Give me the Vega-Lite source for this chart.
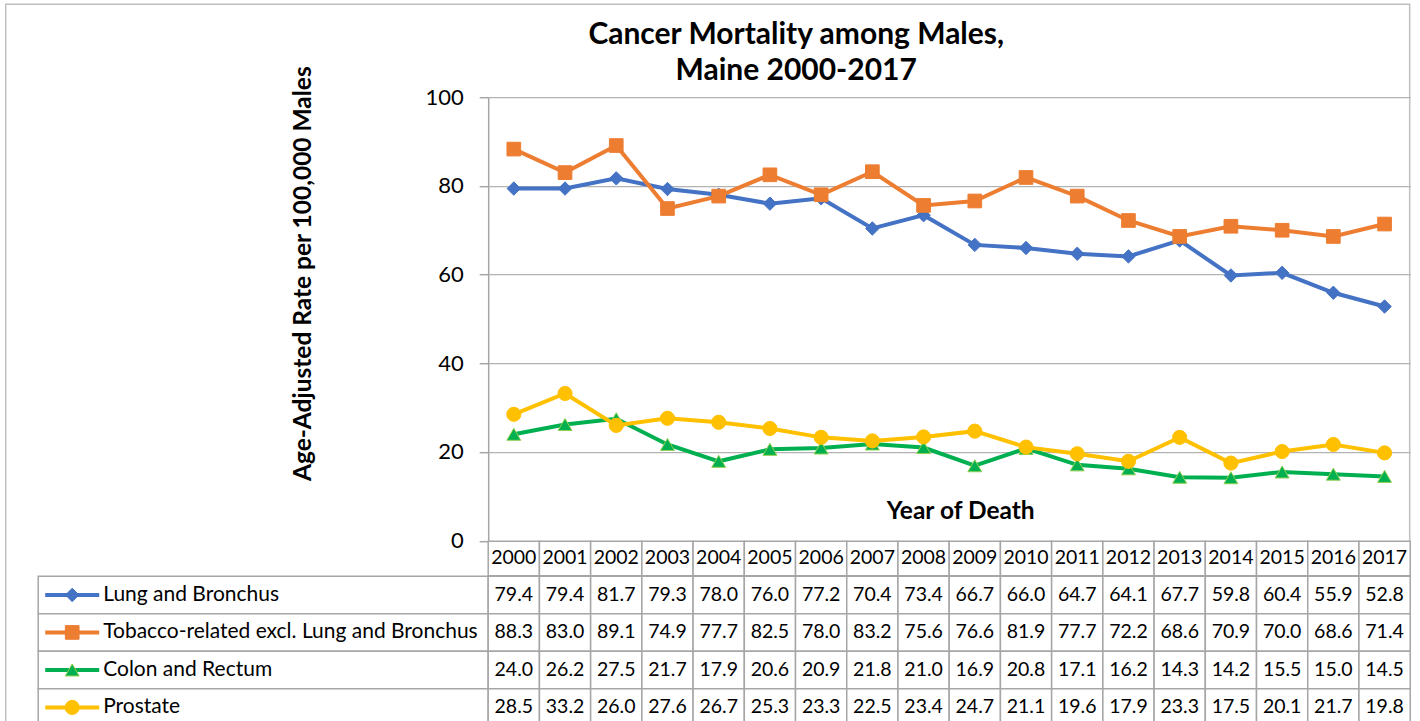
{
  "$schema": "https://vega.github.io/schema/vega-lite/v6.json",
  "background": "white",
  "padding": {"left": 4.2, "top": 3.2, "right": 0, "bottom": 0},
  "config": {"view": {"stroke": null}, "font": "Lato", "text": {"font": "Lato", "color": "#000000"}},
  "datasets": {
    "rates": [
      {"year": 2000, "series": "Lung and Bronchus", "value": 79.4},
      {"year": 2000, "series": "Tobacco-related excl. Lung and Bronchus", "value": 88.3},
      {"year": 2000, "series": "Colon and Rectum", "value": 24.0},
      {"year": 2000, "series": "Prostate", "value": 28.5},
      {"year": 2001, "series": "Lung and Bronchus", "value": 79.4},
      {"year": 2001, "series": "Tobacco-related excl. Lung and Bronchus", "value": 83.0},
      {"year": 2001, "series": "Colon and Rectum", "value": 26.2},
      {"year": 2001, "series": "Prostate", "value": 33.2},
      {"year": 2002, "series": "Lung and Bronchus", "value": 81.7},
      {"year": 2002, "series": "Tobacco-related excl. Lung and Bronchus", "value": 89.1},
      {"year": 2002, "series": "Colon and Rectum", "value": 27.5},
      {"year": 2002, "series": "Prostate", "value": 26.0},
      {"year": 2003, "series": "Lung and Bronchus", "value": 79.3},
      {"year": 2003, "series": "Tobacco-related excl. Lung and Bronchus", "value": 74.9},
      {"year": 2003, "series": "Colon and Rectum", "value": 21.7},
      {"year": 2003, "series": "Prostate", "value": 27.6},
      {"year": 2004, "series": "Lung and Bronchus", "value": 78.0},
      {"year": 2004, "series": "Tobacco-related excl. Lung and Bronchus", "value": 77.7},
      {"year": 2004, "series": "Colon and Rectum", "value": 17.9},
      {"year": 2004, "series": "Prostate", "value": 26.7},
      {"year": 2005, "series": "Lung and Bronchus", "value": 76.0},
      {"year": 2005, "series": "Tobacco-related excl. Lung and Bronchus", "value": 82.5},
      {"year": 2005, "series": "Colon and Rectum", "value": 20.6},
      {"year": 2005, "series": "Prostate", "value": 25.3},
      {"year": 2006, "series": "Lung and Bronchus", "value": 77.2},
      {"year": 2006, "series": "Tobacco-related excl. Lung and Bronchus", "value": 78.0},
      {"year": 2006, "series": "Colon and Rectum", "value": 20.9},
      {"year": 2006, "series": "Prostate", "value": 23.3},
      {"year": 2007, "series": "Lung and Bronchus", "value": 70.4},
      {"year": 2007, "series": "Tobacco-related excl. Lung and Bronchus", "value": 83.2},
      {"year": 2007, "series": "Colon and Rectum", "value": 21.8},
      {"year": 2007, "series": "Prostate", "value": 22.5},
      {"year": 2008, "series": "Lung and Bronchus", "value": 73.4},
      {"year": 2008, "series": "Tobacco-related excl. Lung and Bronchus", "value": 75.6},
      {"year": 2008, "series": "Colon and Rectum", "value": 21.0},
      {"year": 2008, "series": "Prostate", "value": 23.4},
      {"year": 2009, "series": "Lung and Bronchus", "value": 66.7},
      {"year": 2009, "series": "Tobacco-related excl. Lung and Bronchus", "value": 76.6},
      {"year": 2009, "series": "Colon and Rectum", "value": 16.9},
      {"year": 2009, "series": "Prostate", "value": 24.7},
      {"year": 2010, "series": "Lung and Bronchus", "value": 66.0},
      {"year": 2010, "series": "Tobacco-related excl. Lung and Bronchus", "value": 81.9},
      {"year": 2010, "series": "Colon and Rectum", "value": 20.8},
      {"year": 2010, "series": "Prostate", "value": 21.1},
      {"year": 2011, "series": "Lung and Bronchus", "value": 64.7},
      {"year": 2011, "series": "Tobacco-related excl. Lung and Bronchus", "value": 77.7},
      {"year": 2011, "series": "Colon and Rectum", "value": 17.1},
      {"year": 2011, "series": "Prostate", "value": 19.6},
      {"year": 2012, "series": "Lung and Bronchus", "value": 64.1},
      {"year": 2012, "series": "Tobacco-related excl. Lung and Bronchus", "value": 72.2},
      {"year": 2012, "series": "Colon and Rectum", "value": 16.2},
      {"year": 2012, "series": "Prostate", "value": 17.9},
      {"year": 2013, "series": "Lung and Bronchus", "value": 67.7},
      {"year": 2013, "series": "Tobacco-related excl. Lung and Bronchus", "value": 68.6},
      {"year": 2013, "series": "Colon and Rectum", "value": 14.3},
      {"year": 2013, "series": "Prostate", "value": 23.3},
      {"year": 2014, "series": "Lung and Bronchus", "value": 59.8},
      {"year": 2014, "series": "Tobacco-related excl. Lung and Bronchus", "value": 70.9},
      {"year": 2014, "series": "Colon and Rectum", "value": 14.2},
      {"year": 2014, "series": "Prostate", "value": 17.5},
      {"year": 2015, "series": "Lung and Bronchus", "value": 60.4},
      {"year": 2015, "series": "Tobacco-related excl. Lung and Bronchus", "value": 70.0},
      {"year": 2015, "series": "Colon and Rectum", "value": 15.5},
      {"year": 2015, "series": "Prostate", "value": 20.1},
      {"year": 2016, "series": "Lung and Bronchus", "value": 55.9},
      {"year": 2016, "series": "Tobacco-related excl. Lung and Bronchus", "value": 68.6},
      {"year": 2016, "series": "Colon and Rectum", "value": 15.0},
      {"year": 2016, "series": "Prostate", "value": 21.7},
      {"year": 2017, "series": "Lung and Bronchus", "value": 52.8},
      {"year": 2017, "series": "Tobacco-related excl. Lung and Bronchus", "value": 71.4},
      {"year": 2017, "series": "Colon and Rectum", "value": 14.5},
      {"year": 2017, "series": "Prostate", "value": 19.8}
    ]
  },
  "columns": 2,
  "spacing": 0,
  "bounds": "flush",
  "concat": [
    {
      "width": 450,
      "height": 443.5,
      "data": {"values": [{"frame": "chart area"}]},
      "mark": {"type": "rect", "fill": null, "stroke": "#bfbfbf", "strokeWidth": 1.5},
      "encoding": {
        "x": {"datum": -32.5, "type": "quantitative", "scale": {"domain": [0, 450], "nice": false}, "axis": null},
        "x2": {"datum": 1371.5},
        "y": {"datum": -93, "type": "quantitative", "scale": {"domain": [0, 443.5], "nice": false, "reverse": true}, "axis": null},
        "y2": {"datum": 629}
      }
    },
    {
      "width": 922,
      "height": 443.5,
      "title": {
        "text": ["Cancer Mortality among Males,", "Maine 2000-2017"],
        "font": "Lato", "fontSize": 30, "fontWeight": "bold", "color": "#000000",
        "anchor": "middle", "dx": -153, "lineHeight": 36, "offset": -21
      },
      "data": {"name": "rates"},
      "encoding": {
        "x": {
          "field": "year", "type": "ordinal",
          "scale": {"paddingInner": 0, "paddingOuter": 0},
          "axis": {
            "labels": false, "ticks": false, "domain": false, "grid": false,
            "title": "Year of Death", "titleFont": "Lato", "titleFontSize": 24.5, "titleFontWeight": "bold", "titleColor": "#000000",
            "titleX": 472, "titleY": -22, "titleAlign": "center", "titleBaseline": "alphabetic"
          }
        },
        "y": {
          "field": "value", "type": "quantitative",
          "scale": {"domain": [0, 100], "nice": false},
          "axis": {
            "values": [0, 20, 40, 60, 80, 100],
            "domainColor": "#a6a6a6", "domainWidth": 1.5,
            "tickColor": "#a6a6a6", "tickWidth": 1.5, "tickSize": 9,
            "gridColor": "#b3b3b3", "gridWidth": 1.3,
            "labelFont": "Lato", "labelFontSize": 22, "labelColor": "#000000", "labelPadding": 16,
            "title": "Age-Adjusted Rate per 100,000 Males",
            "titleFont": "Lato", "titleFontSize": 24.5, "titleFontWeight": "bold", "titleColor": "#000000",
            "titleAngle": -90, "titleX": -178, "titleY": 176, "titleAlign": "center", "titleBaseline": "alphabetic"
          }
        }
      },
      "layer": [
        {
          "mark": {"type": "line", "strokeWidth": 4},
          "encoding": {
            "color": {
              "field": "series", "type": "nominal", "legend": null,
              "scale": {"domain": ["Lung and Bronchus", "Tobacco-related excl. Lung and Bronchus", "Colon and Rectum", "Prostate"], "range": ["#4472C4", "#ED7D31", "#00B050", "#FFC000"]}
            }
          }
        },
        {
          "mark": {"type": "point", "filled": true, "opacity": 1, "strokeWidth": 1},
          "encoding": {
            "shape": {
              "field": "series", "type": "nominal", "legend": null,
              "scale": {"domain": ["Lung and Bronchus", "Tobacco-related excl. Lung and Bronchus", "Colon and Rectum", "Prostate"], "range": ["diamond", "square", "triangle-up", "circle"]}
            },
            "fill": {
              "field": "series", "type": "nominal", "legend": null,
              "scale": {"domain": ["Lung and Bronchus", "Tobacco-related excl. Lung and Bronchus", "Colon and Rectum", "Prostate"], "range": ["#4472C4", "#ED7D31", "#00B050", "#FFC000"]}
            },
            "stroke": {
              "field": "series", "type": "nominal", "legend": null,
              "scale": {"domain": ["Lung and Bronchus", "Tobacco-related excl. Lung and Bronchus", "Colon and Rectum", "Prostate"], "range": ["#4472C4", "#ED7D31", "#92D050", "#FFC000"]}
            },
            "size": {
              "field": "series", "type": "nominal", "legend": null,
              "scale": {"domain": ["Lung and Bronchus", "Tobacco-related excl. Lung and Bronchus", "Colon and Rectum", "Prostate"], "range": [180, 200, 200, 230]}
            }
          }
        }
      ]
    },
    {
      "width": 450,
      "height": 34.5,
      "data": {"values": []},
      "mark": "rect",
      "encoding": {}
    },
    {
      "width": 922,
      "height": 34.5,
      "data": {"name": "rates"},
      "transform": [{"filter": "datum.series === 'Lung and Bronchus'"}],
      "encoding": {
        "x": {"field": "year", "type": "ordinal", "scale": {"paddingInner": 0, "paddingOuter": 0}, "axis": null}
      },
      "layer": [
        {"mark": {"type": "rect", "fill": "white", "stroke": "#a6a6a6", "strokeWidth": 1.5}},
        {
          "mark": {"type": "text", "baseline": "middle", "fontSize": 19.5, "font": "Lato"},
          "encoding": {"text": {"field": "year", "type": "nominal"}}
        }
      ]
    },
    {
      "width": 450,
      "height": 150,
      "data": {"name": "rates"},
      "transform": [{"filter": "datum.year === 2000"}],
      "encoding": {
        "y": {
          "field": "series", "type": "nominal",
          "scale": {"domain": ["Lung and Bronchus", "Tobacco-related excl. Lung and Bronchus", "Colon and Rectum", "Prostate"], "paddingInner": 0, "paddingOuter": 0},
          "axis": null
        }
      },
      "layer": [
        {
          "mark": {"type": "rect", "fill": "white", "stroke": "#a6a6a6", "strokeWidth": 1.5},
          "encoding": {
            "x": {"datum": 0, "type": "quantitative", "scale": {"domain": [0, 450], "nice": false}, "axis": null},
            "x2": {"datum": 450}
          }
        },
        {
          "mark": {"type": "rule", "strokeWidth": 4},
          "encoding": {
            "x": {"datum": 7, "type": "quantitative"},
            "x2": {"datum": 61},
            "color": {
              "field": "series", "type": "nominal", "legend": null,
              "scale": {"domain": ["Lung and Bronchus", "Tobacco-related excl. Lung and Bronchus", "Colon and Rectum", "Prostate"], "range": ["#4472C4", "#ED7D31", "#00B050", "#FFC000"]}
            }
          }
        },
        {
          "mark": {"type": "point", "filled": true, "opacity": 1, "strokeWidth": 1},
          "encoding": {
            "x": {"datum": 34, "type": "quantitative"},
            "shape": {
              "field": "series", "type": "nominal", "legend": null,
              "scale": {"domain": ["Lung and Bronchus", "Tobacco-related excl. Lung and Bronchus", "Colon and Rectum", "Prostate"], "range": ["diamond", "square", "triangle-up", "circle"]}
            },
            "fill": {
              "field": "series", "type": "nominal", "legend": null,
              "scale": {"domain": ["Lung and Bronchus", "Tobacco-related excl. Lung and Bronchus", "Colon and Rectum", "Prostate"], "range": ["#4472C4", "#ED7D31", "#00B050", "#FFC000"]}
            },
            "stroke": {
              "field": "series", "type": "nominal", "legend": null,
              "scale": {"domain": ["Lung and Bronchus", "Tobacco-related excl. Lung and Bronchus", "Colon and Rectum", "Prostate"], "range": ["#4472C4", "#ED7D31", "#92D050", "#FFC000"]}
            },
            "size": {
              "field": "series", "type": "nominal", "legend": null,
              "scale": {"domain": ["Lung and Bronchus", "Tobacco-related excl. Lung and Bronchus", "Colon and Rectum", "Prostate"], "range": [110, 144, 130, 160]}
            }
          }
        },
        {
          "mark": {"type": "text", "align": "left", "baseline": "middle", "fontSize": 21, "font": "Lato"},
          "encoding": {
            "x": {"datum": 65, "type": "quantitative"},
            "text": {"field": "series", "type": "nominal"}
          }
        }
      ]
    },
    {
      "width": 922,
      "height": 150,
      "data": {"name": "rates"},
      "encoding": {
        "x": {"field": "year", "type": "ordinal", "scale": {"paddingInner": 0, "paddingOuter": 0}, "axis": null},
        "y": {
          "field": "series", "type": "nominal",
          "scale": {"domain": ["Lung and Bronchus", "Tobacco-related excl. Lung and Bronchus", "Colon and Rectum", "Prostate"], "paddingInner": 0, "paddingOuter": 0},
          "axis": null
        }
      },
      "layer": [
        {"mark": {"type": "rect", "fill": "white", "stroke": "#a6a6a6", "strokeWidth": 1.5}},
        {
          "mark": {"type": "text", "baseline": "middle", "fontSize": 19.5, "font": "Lato"},
          "encoding": {"text": {"field": "value", "type": "quantitative", "format": ".1f"}}
        }
      ]
    }
  ]
}
